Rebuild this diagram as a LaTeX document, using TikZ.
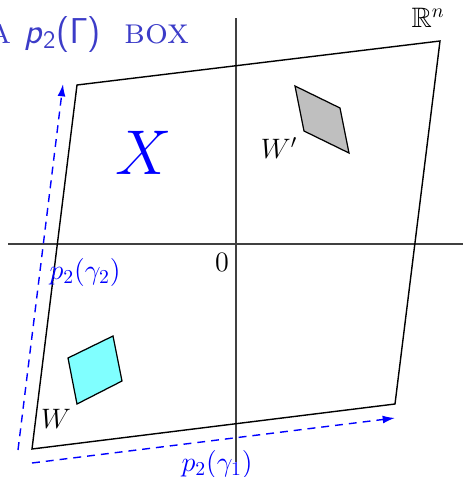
\RequirePackage{fix-cm}
\documentclass[tikz,border=0pt]{standalone}
\usepackage{amssymb}
\usetikzlibrary{arrows.meta}
\definecolor{titleblue}{RGB}{60,60,200}
\definecolor{lightcyan}{RGB}{128,255,255}
\begin{document}
\begin{tikzpicture}[x=0.02cm, y=-0.02cm, font=\fontsize{16}{19}\selectfont,
  axis/.style={black!75, line width=0.8pt},
  gen/.style={blue, line width=0.8pt, dash pattern=on 4.5pt off 3.4pt, -{Latex[length=7pt,width=4.5pt]}},
  piece/.style={draw, line width=0.7pt}]
  \useasboundingbox (0,0) rectangle (463,477);
  % axes
  \draw[axis] (8,244) -- (463,244);
  \draw[axis] (236,18) -- (236,462);
  % the box and the two pieces
  \draw[line width=0.8pt] (77,85) -- (440,41) -- (395,404) -- (32,449) -- cycle;
  \fill[piece, fill=lightcyan] (68,358) -- (113,336) -- (122,381) -- (77,404) -- cycle;
  \fill[piece, fill=black!25] (295,86) -- (340,108) -- (349,153) -- (304,131) -- cycle;
  % generators
  \coordinate (o1) at (32,463);
  \coordinate (g1) at (395,418);
  \coordinate (o2) at (18,450);
  \coordinate (g2) at (63,84);
  \draw[gen] (o1) -- (g1);
  \draw[gen] (o2) -- (g2);
  % labels
  \node[blue] (X) at (144,153) {\fontsize{36}{40}\selectfont$X$};
  \node (W) at (56,419) {$W$};
  \node (Wp) at (279,148) {$W'$};
  \node (zero) at (222,262) {$0$};
  \node (Rn) at (428,18) {$\mathbb{R}^n$};
  \node[blue] (lab2) at (85,272) {$p_2(\gamma_2)$};
  \node[blue] (lab1) at (217,464) {$p_2(\gamma_1)$};
  \node[titleblue, anchor=base east, inner sep=0pt, font=\fontsize{20.5}{24}\selectfont] (title) at (190,43)
    {\textsc{a}\hspace{0.35em}\textsf{\textit{p}}$_{\mathsf{2}}$\textsf{(}$\mathsf{\Gamma}$\textsf{)}\hspace{0.65em}\textsc{box}};
\end{tikzpicture}
\end{document}
